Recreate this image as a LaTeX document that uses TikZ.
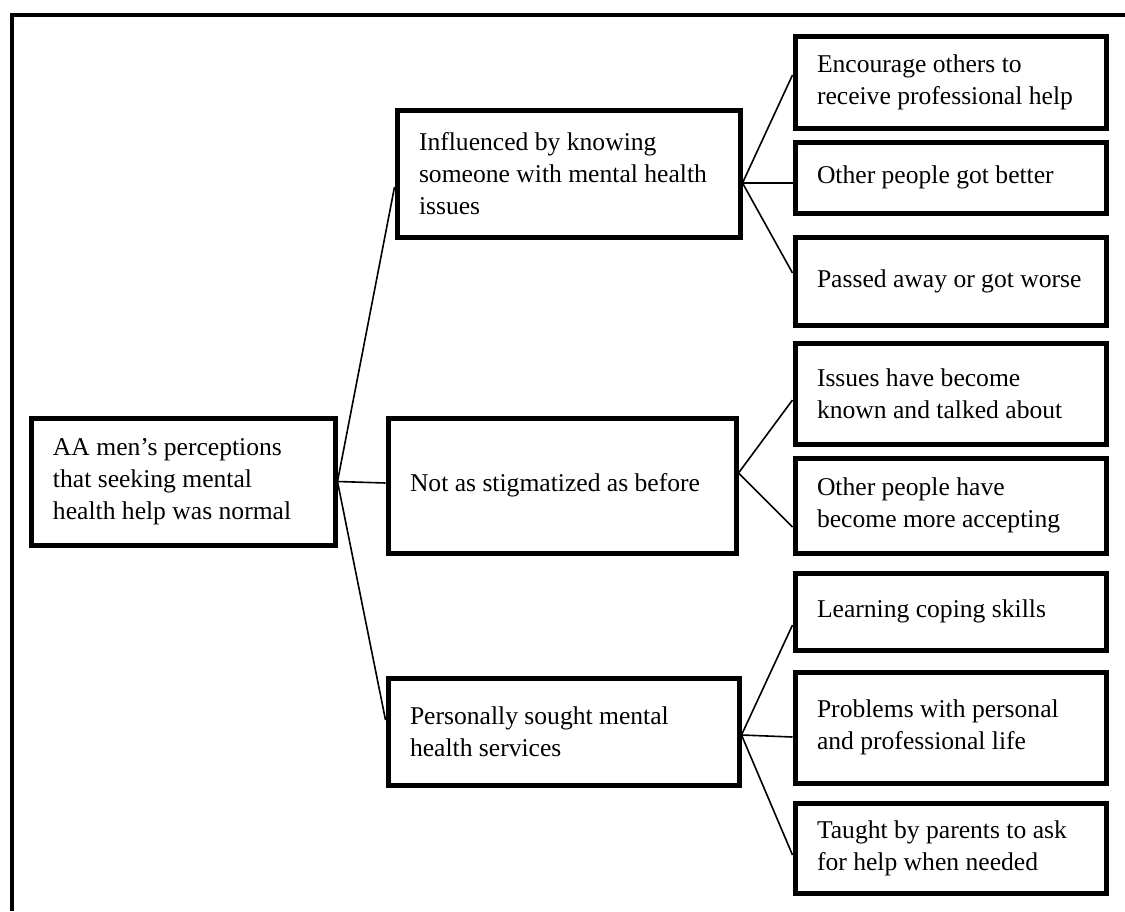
\documentclass[tikz,border=0pt]{standalone}
\usepackage{fontspec}
\setmainfont{Liberation Serif}
\DeclareRobustCommand\boxfont{\fontsize{12.8}{16}\selectfont\hyphenpenalty=10000\relax}
\begin{document}
\begin{tikzpicture}[x=0.5pt,y=-0.5pt,
        box/.style={draw,rectangle,line width=2.5pt,align=flush left,inner xsep=11pt,inner ysep=0pt,
                font=\boxfont},
        leaf/.style={box,text width=133.5pt},
        link/.style={line width=0.8pt},
        frame/.style={line width=2pt}]
        \useasboundingbox (0,0) rectangle (1125,911);
        \draw [frame] (12,911) |- (1125,15);
        % root and middle level
        \node [box,text width=130pt,minimum height=63.5pt] (root) at (183,481.5)
                {AA men’s perceptions\\that seeking mental\\health help was normal};
        \node [box,text width=149.5pt,minimum height=63.5pt] (infl) at (568.5,173.5)
                {Influenced by knowing\\someone with mental health\\issues};
        \node [box,text width=152pt,minimum height=67.5pt] (stig) at (562,485.5)
                {Not as stigmatized as before};
        \node [box,text width=153.5pt,minimum height=53.5pt] (pers) at (563.5,731.5)
                {Personally sought mental\\health services};
        % leaves
        \foreach \name/\ypos/\hgt/\txt in {
                encour/82/46/{Encourage others to\\receive professional help},
                better/177.5/35.5/{Other people got better},
                worse/281/44/{Passed away or got worse},
                known/393.5/50.5/{Issues have become\\known and talked about},
                accept/505.5/47.5/{Other people have\\become more accepting},
                coping/611.5/38.5/{Learning coping skills},
                probl/727.5/55.5/{Problems with personal\\and professional life},
                taught/848/45/{Taught by parents to ask\\for help when needed}} {
        \node [leaf,minimum height=\hgt pt] (\name) at (950.5,\ypos) {\txt};
        }
        \coordinate (hinfl) at ([yshift=-4.75pt]infl.east);
        \coordinate (hstig) at ([yshift=6.25pt]stig.east);
        \coordinate (hpers) at ([yshift=-1.75pt]pers.east);
        \draw [link] (root.east) -- ([yshift=-6.75pt]infl.west);
        \draw [link] (root.east) -- ([yshift=1.25pt]stig.west);
        \draw [link] (root.east) -- ([yshift=5.75pt]pers.west);
        \foreach \from/\to/\dy in {hinfl/encour/3.5, hinfl/better/-2.75, hinfl/worse/4,
                hstig/known/-3.25, hstig/accept/-10.75,
                hpers/coping/-6.75, hpers/probl/-4.75, hpers/taught/-3.5} {
        \draw [link] (\from) -- ([yshift=\dy pt]\to.west);
        }
\end{tikzpicture}
\end{document}
